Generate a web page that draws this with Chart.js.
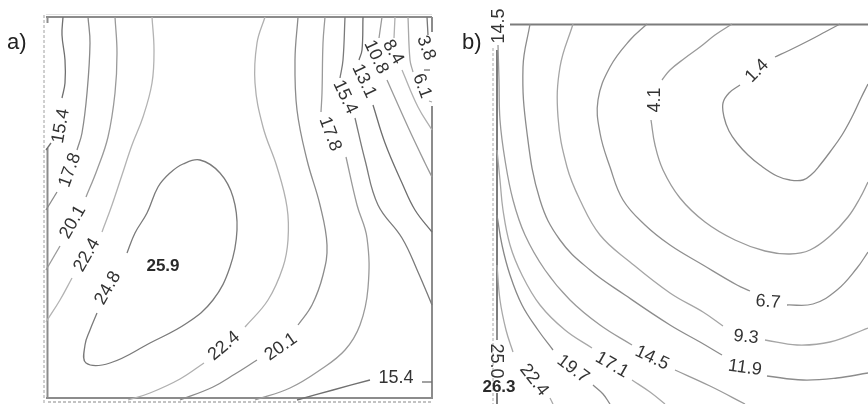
<!DOCTYPE html>
<html>
<head>
<meta charset="utf-8">
<script src="https://cdn.jsdelivr.net/npm/chart.js@4.4.0/dist/chart.umd.min.js"></script>
<style>
  html, body { margin: 0; padding: 0; background: #fff; }
  #wrap { position: relative; width: 868px; height: 404px; overflow: hidden; }
  canvas { position: absolute; top: 0; }
  #chartA { left: 0; }
  #chartB { left: 440px; }
  .tag { position: absolute; font: 22px "Liberation Sans", Arial, sans-serif; color: #222; }
</style>
</head>
<body>
<div id="wrap">
  <canvas id="chartA" width="440" height="404"></canvas>
  <canvas id="chartB" width="428" height="404"></canvas>
  <div class="tag" style="left:7px;top:29px">a)</div>
  <div class="tag" style="left:462px;top:29px">b)</div>
</div>
<script>
// ---- panel a: contour runs (x across, y down the sheet) ----
const a15_4L1 = [[63,17],[62,35],[65,60],[65,83],[62,98]];
const a15_4L2 = [[51,143],[46,150]];
const a17_8L1 = [[88,17],[90,43],[87,93],[82,133],[77,150]];
const a17_8L2 = [[57,192],[46,210]];
const a20_1L1 = [[115,17],[117,53],[115,93],[108,137],[97,170],[86,197]];
const a20_1L2 = [[60,246],[46,270]];
const a22_4L1 = [[152,17],[154,50],[152,83],[143,117],[132,145],[122,175],[112,205],[102,232]];
const a22_4L2 = [[72,278],[60,300],[46,322]];
const a24_8 = [[127,253],[135,233],[147,213],[158,187],[170,173],[183,164],[200,160],[220,173],[233,197],
               [237,230],[230,267],[213,300],[187,323],[150,343],[110,363],[86,363],[85,345],[90,330],[97,313]];
const a22_4R1 = [[265,17],[257,43],[255,83],[263,127],[277,167],[287,207],[288,240],[283,267],[268,300],[245,327]];
const a22_4R2 = [[204,363],[180,379],[150,393],[128,400]];
const a20_1R1 = [[298,17],[295,60],[297,110],[307,160],[320,205],[327,245],[323,275],[312,305],[298,325]];
const a20_1R2 = [[257,360],[235,374],[213,387],[180,400]];
const a17_8R1 = [[325,17],[323,43],[322,93],[321,112]];
const a17_8R2 = [[346,157],[357,205],[367,238],[368,288],[360,325],[345,350],[320,370],[290,388],[255,400]];
const a15_4R1 = [[345,17],[343,60],[340,78]];
const a15_4R2 = [[355,118],[365,160],[378,205],[402,238],[418,272],[432,305]];
const a13_1a = [[363,17],[362,50],[359,60]];
const a13_1b = [[373,105],[385,143],[402,183],[415,210],[432,232]];
const a10_8a = [[382,17],[379,38]];
const a10_8b = [[387,80],[408,127],[425,163],[432,177]];
const a8_4a = [[395,17],[394,38]];
const a8_4b = [[402,70],[418,107],[432,130]];
const a6_1a = [[408,17],[410,60],[413,72]];
const a6_1b = [[429,101],[432,102]];
const a3_8a = [[427,17],[428,35]];
const a3_8b = [[424,70],[430,70]];
const a15_4B1 = [[297,400],[333,390],[370,380]];
const a15_4B2 = [[422,382],[432,382]];

// label text, x, y, angle (deg), bold
const labelsA = [
  ["15.4", 61, 126, -80], ["17.8", 70, 170, -70], ["20.1", 73, 222, -60], ["22.4", 87, 255, -60],
  ["24.8", 108, 288, -60], ["25.9", 163, 266, 0, true], ["22.4", 224, 346, -40], ["20.1", 281, 347, -35],
  ["15.4", 396, 378, 0], ["17.8", 330, 134, 70], ["15.4", 345, 97, 65], ["13.1", 364, 81, 65],
  ["10.8", 376, 57, 65], ["8.4", 393, 52, 60], ["6.1", 422, 86, 70], ["3.8", 426, 48, 70]
];

// ---- panel b ----
const b1_4a = [[840,24],[825,32],[810,40],[790,50],[775,57]];
const b1_4b = [[740,85],[729,93],[723,103],[724,117],[729,131],[737,143],[748,155],[760,165],[777,176],
               [790,180],[803,180],[812,174],[820,165],[830,152],[842,135],[853,115],[861,98],[868,84]];
const b4_1a = [[732,24],[715,35],[700,47],[685,58],[670,70],[662,80]];
const b4_1b = [[651,120],[655,145],[663,170],[680,198],[705,222],[735,240],[765,251],[790,254],
               [810,250],[830,236],[848,217],[860,198],[868,182]];
const b6_7a = [[647,24],[630,40],[610,67],[598,100],[600,133],[610,167],[623,200],[645,225],[670,245],
               [703,265],[737,285],[750,291]];
const b6_7b = [[787,305],[813,304],[837,290],[857,268],[868,252]];
const b9_3a = [[573,24],[560,67],[558,117],[567,167],[580,200],[600,235],[630,262],[670,293],[703,312],[723,326]];
const b9_3b = [[765,340],[797,345],[830,342],[868,328]];
const b11_9a = [[530,24],[523,67],[527,133],[540,200],[560,240],[590,270],[625,295],[670,325],[700,342],[722,355]];
const b11_9b = [[767,376],[803,380],[837,378],[868,373]];
const b14_5a = [[498,45],[499,80],[500,120],[505,160],[513,200],[525,235],[545,270],[570,300],[600,325],[632,345]];
const b14_5b = [[675,370],[710,386],[745,404]];
const b17_1a = [[497,150],[500,180],[503,210],[510,245],[522,275],[540,305],[565,330],[592,348]];
const b17_1b = [[632,380],[650,392],[665,404]];
const b19_7a = [[497,215],[502,245],[510,275],[522,305],[538,330],[553,350]];
const b19_7b = [[593,385],[603,394],[610,404]];
const b22_4a = [[497,265],[500,300],[506,330],[513,352]];
const b22_4b = [[550,398],[553,404]];
const b25_0a = [[497,320],[497,340]];

const labelsB = [
  ["14.5", 499, 26, -90], ["1.4", 757, 71, -45], ["4.1", 655, 100, -90], ["6.7", 768, 302, 4],
  ["9.3", 746, 337, 6], ["11.9", 745, 368, 8], ["14.5", 652, 358, 25], ["17.1", 612, 365, 30],
  ["19.7", 573, 369, 37], ["22.4", 534, 380, 52], ["25.0", 496, 361, 90], ["26.3", 499, 387, 0, true]
];

// runs + line shade per panel
const runsA = [
  [a15_4L1, "#707070"], [a15_4L2, "#707070"], [a17_8L1, "#8a8a8a"], [a17_8L2, "#8a8a8a"],
  [a20_1L1, "#9a9a9a"], [a20_1L2, "#9a9a9a"], [a22_4L1, "#b3b3b3"], [a22_4L2, "#b3b3b3"],
  [a24_8, "#7a7a7a"], [a22_4R1, "#b0b0b0"], [a22_4R2, "#b0b0b0"], [a20_1R1, "#8c8c8c"], [a20_1R2, "#8c8c8c"],
  [a17_8R1, "#9a9a9a"], [a17_8R2, "#9a9a9a"], [a15_4R1, "#7a7a7a"], [a15_4R2, "#7a7a7a"],
  [a13_1a, "#6e6e6e"], [a13_1b, "#6e6e6e"], [a10_8a, "#9a9a9a"], [a10_8b, "#9a9a9a"],
  [a8_4a, "#b0b0b0"], [a8_4b, "#b0b0b0"], [a6_1a, "#a8a8a8"], [a6_1b, "#a8a8a8"],
  [a3_8a, "#777777"], [a3_8b, "#777777"], [a15_4B1, "#707070"], [a15_4B2, "#707070"]
];
const runsB = [
  [b1_4a, "#8a8a8a"], [b1_4b, "#8a8a8a"], [b4_1a, "#9a9a9a"], [b4_1b, "#9a9a9a"],
  [b6_7a, "#8f8f8f"], [b6_7b, "#8f8f8f"], [b9_3a, "#a5a5a5"], [b9_3b, "#a5a5a5"],
  [b11_9a, "#8c8c8c"], [b11_9b, "#8c8c8c"], [b14_5a, "#9a9a9a"], [b14_5b, "#9a9a9a"],
  [b17_1a, "#a8a8a8"], [b17_1b, "#a8a8a8"], [b19_7a, "#888888"], [b19_7b, "#888888"],
  [b22_4a, "#a8a8a8"], [b22_4b, "#a8a8a8"], [b25_0a, "#999999"]
];

// frame pieces: [x1, y1, x2, y2, color, width, dashed]
const frameA = [
  [46, 14.5, 432, 14.5, "#e2e2e2", 1],
  [46, 17, 432, 17, "#8c8c8c", 2],
  [432, 17, 432, 32, "#8c8c8c", 2], [432, 106, 432, 399, "#8c8c8c", 2],
  [44, 15, 44, 403, "#a0a0a0", 1, true],
  [47.5, 17, 47.5, 23, "#8c8c8c", 2], [47.5, 148, 47.5, 399, "#8c8c8c", 2],
  [46, 398, 432, 398, "#8c8c8c", 2],
  [48, 402, 432, 402, "#b0b0b0", 1.5, true]
];
const frameB = [
  [510, 24.5, 868, 24.5, "#7c7c7c", 2],
  [493, 48, 493, 404, "#a8a8a8", 1, true],
  [497, 50, 497, 340, "#7c7c7c", 2], [497, 393, 497, 404, "#7c7c7c", 2]
];

const contourDecor = {
  id: 'contourDecor',
  beforeDatasetsDraw(chart, args, opts) {
    const { ctx, scales: { x, y } } = chart;
    opts.frame.forEach(([x1, y1, x2, y2, c, w, dashed]) => {
      ctx.save();
      ctx.strokeStyle = c;
      ctx.lineWidth = w;
      ctx.setLineDash(dashed ? [3, 2] : []);
      ctx.beginPath();
      ctx.moveTo(x.getPixelForValue(x1), y.getPixelForValue(y1));
      ctx.lineTo(x.getPixelForValue(x2), y.getPixelForValue(y2));
      ctx.stroke();
      ctx.restore();
    });
  },
  afterDatasetsDraw(chart, args, opts) {
    const { ctx, scales: { x, y } } = chart;
    opts.labels.forEach(([t, vx, vy, ang, bold]) => {
      ctx.save();
      ctx.translate(x.getPixelForValue(vx), y.getPixelForValue(vy));
      ctx.rotate(ang * Math.PI / 180);
      ctx.font = (bold ? 'bold 17px ' : '18px ') + '"Liberation Sans", Arial, sans-serif';
      ctx.fillStyle = bold ? '#2a2a2a' : '#333';
      ctx.textAlign = 'center';
      ctx.textBaseline = 'middle';
      ctx.fillText(t, 0, 0);
      ctx.restore();
    });
  }
};

function makePanel(id, runs, labels, frame, xr, yr, pad) {
  const datasets = runs.map(([pts, shade]) => ({
    data: pts.map(([px, py]) => ({ x: px, y: py })),
    showLine: true,
    borderColor: shade,
    borderWidth: 1.3,
    pointRadius: 0,
    tension: 0.4,
    clip: 3
  }));
  return new Chart(document.getElementById(id), {
    type: 'scatter',
    data: { datasets },
    options: {
      responsive: false,
      animation: false,
      events: [],
      layout: { padding: pad },
      scales: {
        x: { type: 'linear', min: xr[0], max: xr[1], display: false },
        y: { type: 'linear', min: yr[0], max: yr[1], reverse: true, display: false }
      },
      plugins: {
        legend: { display: false },
        tooltip: { enabled: false },
        contourDecor: { labels, frame }
      }
    },
    plugins: [contourDecor]
  });
}

makePanel('chartA', runsA, labelsA, frameA, [46, 432], [17, 400], { left: 46, right: 8, top: 17, bottom: 4 });
makePanel('chartB', runsB, labelsB, frameB, [495, 868], [24, 404], { left: 55, right: 0, top: 24, bottom: 0 });
</script>
</body>
</html>
